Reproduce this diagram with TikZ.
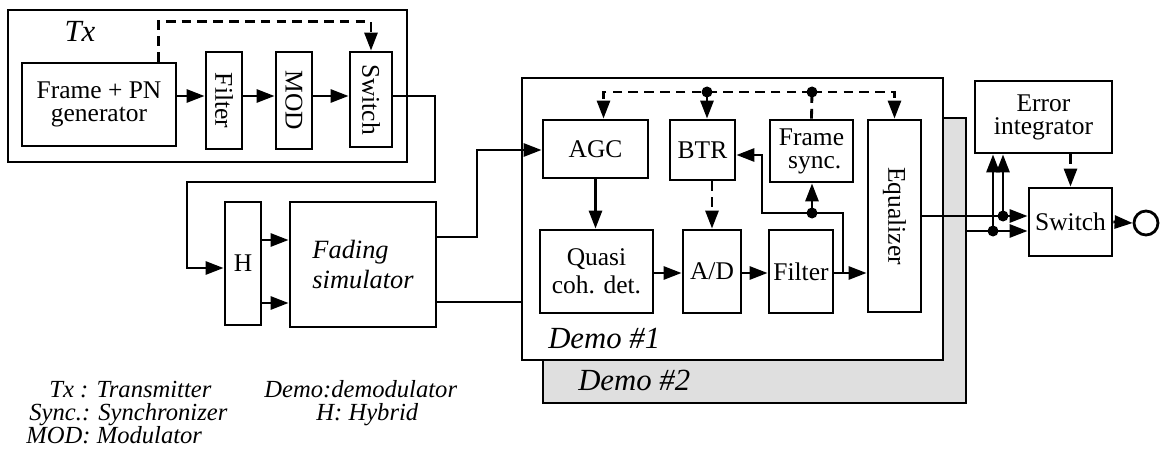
\documentclass[tikz,border=0pt]{standalone}
\usepackage{fontspec}
\setmainfont{Liberation Serif}
\usepackage{graphicx}
\usetikzlibrary{arrows.meta, calc}
\tikzset{
  every picture/.style={line width=1.6pt},
  box/.style={draw, fill=white, align=center, inner sep=1pt, font=\fontsize{14.5}{13}\selectfont},
  sz/.style 2 args={minimum width=#1*0.2mm, minimum height=#2*0.2mm},
  arrow/.style={-{Triangle[length=3.6mm, width=2.6mm]}},
  dashline/.style={dash pattern=on 5.5pt off 3.5pt},
  dasharrow/.style={arrow, dashline},
  dot/.style={circle, fill, inner sep=0pt, minimum size=2.2mm},
  tag/.style={font=\fontsize{17.5}{18}\selectfont\itshape},
  legend/.style={font=\fontsize{14}{14}\selectfont\itshape, anchor=base west, inner sep=0pt},
}

\begin{document}
\begin{tikzpicture}[x=0.2mm, y=-0.2mm]
  \useasboundingbox (0,0) rectangle (1166,464);
  % transmitter
  \node[draw, sz={399}{152}, inner sep=0pt] (txfr) at (207.5,86) {};
  \node[tag, anchor=base] (txl) at (80,42) {Tx};
  \node[box, sz={154}{83}] (gen) at (99,104.5) {Frame + PN\\generator};
  \node[box, sz={36}{97}] (filt) at (224,100.5) {\rotatebox{-90}{Filter}};
  \node[box, sz={36}{97}] (mod) at (294,100.5) {\rotatebox{-90}{MOD}};
  \node[box, sz={42}{95}] (sw) at (371,99.5) {\rotatebox{-90}{Switch}};
  \foreach \a/\b in {gen/filt, filt/mod, mod/sw} \draw[arrow] (\a.east |- 0,96) -- (\b.west |- 0,96);
  \draw[dasharrow] ($(gen.north east)+(-19,0)$) -- ++(0,-40) -| (sw.north);
  % channel
  \node[box, sz={36}{123}] (hyb) at (243,263.5) {H};
  \node[box, sz={146}{125}, align=left, font=\fontsize{15}{17}\selectfont\itshape] (fad) at (363,264.5) {Fading\\simulator};
  \draw[arrow] (sw.east |- 0,96) -| (435,182) -| (187,268) -- (hyb.west |- 0,268);
  \foreach \y in {240,303} \draw[arrow] (hyb.east |- 0,\y) -- (fad.west |- 0,\y);
  % demodulators
  \node[draw, fill=gray!25, sz={423}{285}, inner sep=0pt] (demo2) at (754.5,260.5) {};
  \node[draw, fill=white, sz={421}{282}, inner sep=0pt] (demo1) at (732.5,219) {};
  \node[tag, anchor=base west] (d1l) at (541,348) {Demo \#1};
  \node[tag, anchor=base west] (d2l) at (571,390) {Demo \#2};
  \node[box, sz={105}{58}] (agc) at (595.5,149) {AGC};
  \node[box, sz={65}{60}] (btr) at (702.5,150) {BTR};
  \node[box, sz={83}{62}] (fsync) at (811.5,151) {Frame\\\ sync.};
  \node[box, sz={53}{192}] (eq) at (894.5,216) {\rotatebox{-90}{Equalizer}};
  \node[box, sz={113}{83}, font=\fontsize{14.5}{16}\selectfont] (qcd) at (596.5,271.5) {Quasi\\coh. det.};
  \node[box, sz={58}{83}] (ad) at (712,271.5) {A/D};
  \node[box, sz={64}{83}] (filtb) at (801,271.5) {Filter};
  \draw[arrow] (fad.east |- 0,237) -| (477,150) -- (agc.west |- 0,150);
  \draw (fad.east |- 0,302) -- (demo1.west |- 0,302);
  \draw[arrow] (agc.south) -- (agc.south |- qcd.north);
  \draw[dasharrow] (ad.north |- btr.south) -- (ad.north);
  \foreach \a/\b in {qcd/ad, ad/filtb, filtb/eq} \draw[arrow] (\a.east |- 0,273) -- (\b.west |- 0,273);
  \draw[arrow] (843,273) |- (762,213) |- (btr.east |- 0,155);
  \node[dot] (tapd) at (812,213) {};
  \draw[arrow] (tapd.center) -- (tapd.center |- fsync.south);
  \node[dot] (bus1) at (812,92) {};
  \node[dot] (bus2) at (707,92) {};
  \draw[dashline] (fsync.north) -- (bus1.center);
  \draw[dasharrow] (bus1.center) -| (eq.north);
  \draw[dasharrow] (bus1.center) -| ($(agc.north)+(8,0)$);
  \draw[dasharrow] (bus2.center) -- (bus2.center |- btr.north);
  % combiner
  \node[box, sz={137}{72}] (errint) at (1043.5,117) {Error\\integrator};
  \node[box, sz={83}{68}] (sw2) at (1070.5,222) {Switch};
  \node[draw, circle, minimum size=24*0.2mm, inner sep=0pt] (out) at (1146,223) {};
  \draw[arrow] (eq.east |- 0,216) -- (sw2.west |- 0,216);
  \draw[arrow] (demo2.east |- 0,231) -- (sw2.west |- 0,231);
  \node[dot] (e1) at (1003,216) {};
  \node[dot] (e2) at (993,231) {};
  \draw[arrow] (e1.center) -- (e1.center |- errint.south);
  \draw[arrow] (e2.center) -- (e2.center |- errint.south);
  \draw[dasharrow] (sw2.north |- errint.south) -- (sw2.north);
  \draw[arrow] (sw2.east) -- (out.west);
  % legend
  \node[legend] (lg1) at (48,397) {Tx : Transmitter};
  \node[legend] (lg2) at (263,397) {Demo:demodulator};
  \node[legend] (lg3) at (28,420) {Sync.: Synchronizer};
  \node[legend] (lg4) at (315,420) {H: Hybrid};
  \node[legend] (lg5) at (25,443) {MOD: Modulator};
\end{tikzpicture}
\end{document}
